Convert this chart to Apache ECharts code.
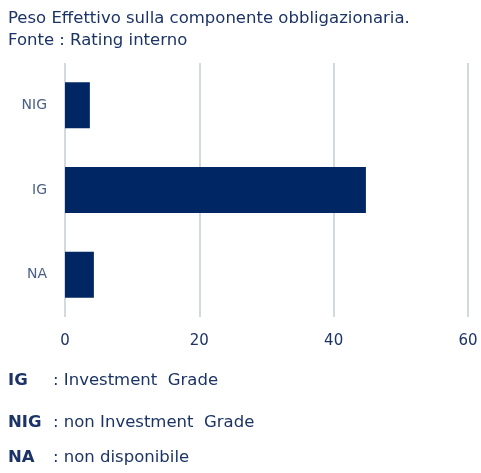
<!DOCTYPE html>
<html>
<head>
<meta charset="UTF-8">
<title>Rating</title>
<script src="https://cdn.jsdelivr.net/npm/echarts@6/dist/echarts.min.js"></script>
<style>
	html,body{margin:0;padding:0;background:#fff;}
	#main{width:481px;height:473px;}
</style>
</head>
<body>
<div id="main"></div>
<script>
// dati
var categorie = ['NA', 'IG', 'NIG'];
var valori = [4.3, 44.8, 3.7];
var tickAsse = [0, 20, 40, 60];
var legendaSigle = ['IG', 'NIG', 'NA'];
var legendaTesti = [': Investment  Grade', ': non Investment  Grade', ': non disponibile'];

var blu = '#002664';
var testo = '#1b3366';
var font = 'DejaVu Sans';

var legendaY = [381, 423, 458];
var grafici = [];
for (var i = 0; i < legendaSigle.length; i++) {
	grafici.push({
		type: 'text', x: 8, y: legendaY[i],
		style: {text: legendaSigle[i], fill: testo, font: 'bold 16.5px ' + font, verticalAlign: 'middle'}
	});
	grafici.push({
		type: 'text', x: 53, y: legendaY[i],
		style: {text: legendaTesti[i], fill: testo, font: '16.5px ' + font, verticalAlign: 'middle'}
	});
}

var myChart = echarts.init(document.getElementById('main'));
var option = {
	animation: false,
	title: {
		text: 'Peso Effettivo sulla componente obbligazionaria.\nFonte : Rating interno',
		left: 3, top: 3,
		textStyle: {color: testo, fontFamily: font, fontSize: 16.5, fontWeight: 'normal', lineHeight: 22}
	},
	grid: {left: 65, right: 13, top: 63, bottom: 156},
	xAxis: {
		type: 'value', min: 0, max: 60, interval: 20,
		axisLine: {show: false}, axisTick: {show: false},
		splitLine: {lineStyle: {color: '#c3ced6', width: 1.5}},
		axisLabel: {
			color: testo, fontFamily: font, fontSize: 15, margin: 17,
			formatter: function (v) { return tickAsse.indexOf(v) >= 0 ? String(v) : ''; }
		}
	},
	yAxis: {
		type: 'category', data: categorie,
		axisLine: {show: false}, axisTick: {show: false},
		axisLabel: {color: '#4a5f86', fontFamily: font, fontSize: 14, margin: 18}
	},
	series: [{
		type: 'bar', data: valori, barWidth: 46,
		itemStyle: {color: blu}
	}],
	graphic: grafici
};
myChart.setOption(option);
</script>
</body>
</html>
